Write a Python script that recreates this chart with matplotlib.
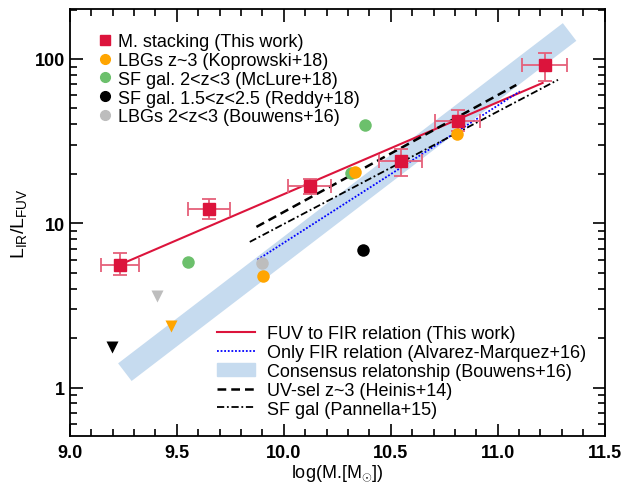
import numpy as np
import matplotlib
matplotlib.use("Agg")
import matplotlib.pyplot as plt
from matplotlib.patches import Patch
from matplotlib.lines import Line2D

plt.rcParams["font.family"] = ["Liberation Sans", "DejaVu Sans"]
plt.rcParams["mathtext.fontset"] = "custom"
plt.rcParams["mathtext.rm"] = "Liberation Sans"
plt.rcParams["mathtext.it"] = "Liberation Sans"

# mass stacking (this work)
stack_m = [9.234, 9.65, 10.121, 10.547, 10.813, 11.22]
stack_irx = [5.57, 12.2, 16.9, 23.9, 42.0, 91.8]
stack_mlo = [0.09, 0.10, 0.10, 0.10, 0.105, 0.105]
stack_mhi = [0.09, 0.10, 0.10, 0.10, 0.105, 0.105]
stack_lo = [0.75, 1.6, 1.8, 4.5, 5.5, 18.0]
stack_hi = [1.0, 1.8, 1.8, 4.3, 6.8, 17.0]

# Koprowski+18
kop_m = [9.902, 10.332, 10.812]
kop_irx = [4.75, 20.6, 35.0]
kop_lim_m = [9.475]
kop_lim = [2.38]
# McLure+18
mcl_m = [9.553, 10.316, 10.379]
mcl_irx = [5.8, 20.2, 39.6]
# Reddy+18
red_m = [10.369]
red_irx = [6.85]
red_lim_m = [9.198]
red_lim = [1.76]
# Bouwens+16
bou_m = [9.90]
bou_irx = [5.72]
bou_lim_m = [9.405]
bou_lim = [3.6]

# relations (end points)
fuv_fir_m = [9.234, 11.21]
fuv_fir_irx = [5.6, 71.5]
alv_m = [9.877, 11.103]
alv_irx = [6.0, 63.5]
cons_m = [9.257, 11.336]
cons_irx = [1.24, 146.0]
hei_m = [9.872, 11.087]
hei_irx = [9.5, 69.5]
pan_m = [9.841, 11.282]
pan_irx = [7.7, 74.7]

red_c = "#dc143c"

fig = plt.figure(figsize=(6.24, 4.85), dpi=100)
ax = fig.add_axes([0.112, 0.099, 0.857, 0.880])

ax.plot(cons_m, cons_irx, color="#c6dbef", lw=16, solid_capstyle="butt", zorder=1)
ax.plot(fuv_fir_m, fuv_fir_irx, color=red_c, lw=1.5, zorder=3)
ax.plot(alv_m, alv_irx, color="blue", lw=1.3, ls=(0, (1, 1)), zorder=3)
ax.plot(hei_m, hei_irx, color="black", lw=1.8, ls=(0, (3.5, 2)), zorder=3)
ax.plot(pan_m, pan_irx, color="black", lw=1.3, ls=(0, (4, 1.5, 1, 1.5)), zorder=3)

ax.errorbar(stack_m, stack_irx, xerr=[stack_mlo, stack_mhi], yerr=[stack_lo, stack_hi],
            fmt="none", ecolor="#e5607a", elinewidth=1.3, capsize=5, capthick=1.3, zorder=4)
ax.plot(stack_m, stack_irx, "s", color=red_c, ms=9, zorder=5)

ax.plot(kop_m, kop_irx, "o", color="orange", ms=9, mec="none", zorder=4)
ax.plot(kop_lim_m, kop_lim, "v", color="orange", ms=8, mec="none", zorder=4)
ax.plot(mcl_m, mcl_irx, "o", color="#6cc06c", ms=9, mec="none", zorder=3.9)
ax.plot(red_m, red_irx, "o", color="black", ms=9, mec="none", zorder=4)
ax.plot(red_lim_m, red_lim, "v", color="black", ms=8, mec="none", zorder=4)
ax.plot(bou_m, bou_irx, "o", color="#bdbdbd", ms=9, mec="none", zorder=3.8)
ax.plot(bou_lim_m, bou_lim, "v", color="#bdbdbd", ms=8, mec="none", zorder=4)

ax.set_yscale("log")
ax.set_xlim(9.0, 11.5)
ax.set_ylim(0.507, 201)
ax.set_xticks([9.0, 9.5, 10.0, 10.5, 11.0, 11.5])
ax.set_xticks(np.arange(9.0, 11.5, 0.1), minor=True)
ax.set_yticks([1, 10, 100])
ax.set_yticklabels(["1", "10", "100"])
ax.set_xticklabels(["9.0", "9.5", "10.0", "10.5", "11.0", "11.5"])
ax.tick_params(which="both", direction="in", top=True, right=True, labelsize=13)
ax.tick_params(which="major", length=9, width=1.2)
ax.tick_params(which="minor", length=5, width=1.2)
ax.tick_params(axis="x", which="major", pad=5.5)
ax.tick_params(axis="y", which="major", pad=3.5)
for lab in ax.get_xticklabels() + ax.get_yticklabels():
    lab.set_fontweight("bold")
for s in ax.spines.values():
    s.set_linewidth(1.3)

ax.set_xlabel(r"log(M.[M$_{\odot}$])", fontsize=13, labelpad=1)
ax.set_ylabel(r"L$_{\rm IR}$/L$_{\rm FUV}$", fontsize=14, labelpad=4)

h1 = [
    Line2D([], [], ls="none", marker="s", color=red_c, ms=7),
    Line2D([], [], ls="none", marker="o", color="orange", ms=7),
    Line2D([], [], ls="none", marker="o", color="#6cc06c", ms=7),
    Line2D([], [], ls="none", marker="o", color="black", ms=7),
    Line2D([], [], ls="none", marker="o", color="#bdbdbd", ms=7),
]
l1 = ["M. stacking (This work)", "LBGs z~3 (Koprowski+18)", "SF gal. 2<z<3 (McLure+18)",
      "SF gal. 1.5<z<2.5 (Reddy+18)", "LBGs 2<z<3 (Bouwens+16)"]
leg1 = ax.legend(h1, l1, loc="upper left", bbox_to_anchor=(0.056, 0.944), frameon=False,
                 fontsize=13, handlelength=0.6, handletextpad=0.4, labelspacing=0.1,
                 borderaxespad=0, borderpad=0)
ax.add_artist(leg1)

h2 = [
    Line2D([], [], color=red_c, lw=1.5),
    Line2D([], [], color="blue", lw=1.3, ls=(0, (1, 1))),
    Patch(color="#c6dbef"),
    Line2D([], [], color="black", lw=1.8, ls=(0, (3.5, 2))),
    Line2D([], [], color="black", lw=1.3, ls=(0, (4, 1.5, 1, 1.5))),
]
l2 = ["FUV to FIR relation (This work)", "Only FIR relation (Alvarez-Marquez+16)",
      "Consensus relatonship (Bouwens+16)", "UV-sel z~3 (Heinis+14)", "SF gal (Pannella+15)"]
ax.legend(h2, l2, loc="lower left", bbox_to_anchor=(0.275, 0.043), frameon=False,
          fontsize=13, handlelength=2.1, handletextpad=0.65, labelspacing=0.1,
          borderaxespad=0, borderpad=0)

fig.savefig("out.png", dpi=100)
